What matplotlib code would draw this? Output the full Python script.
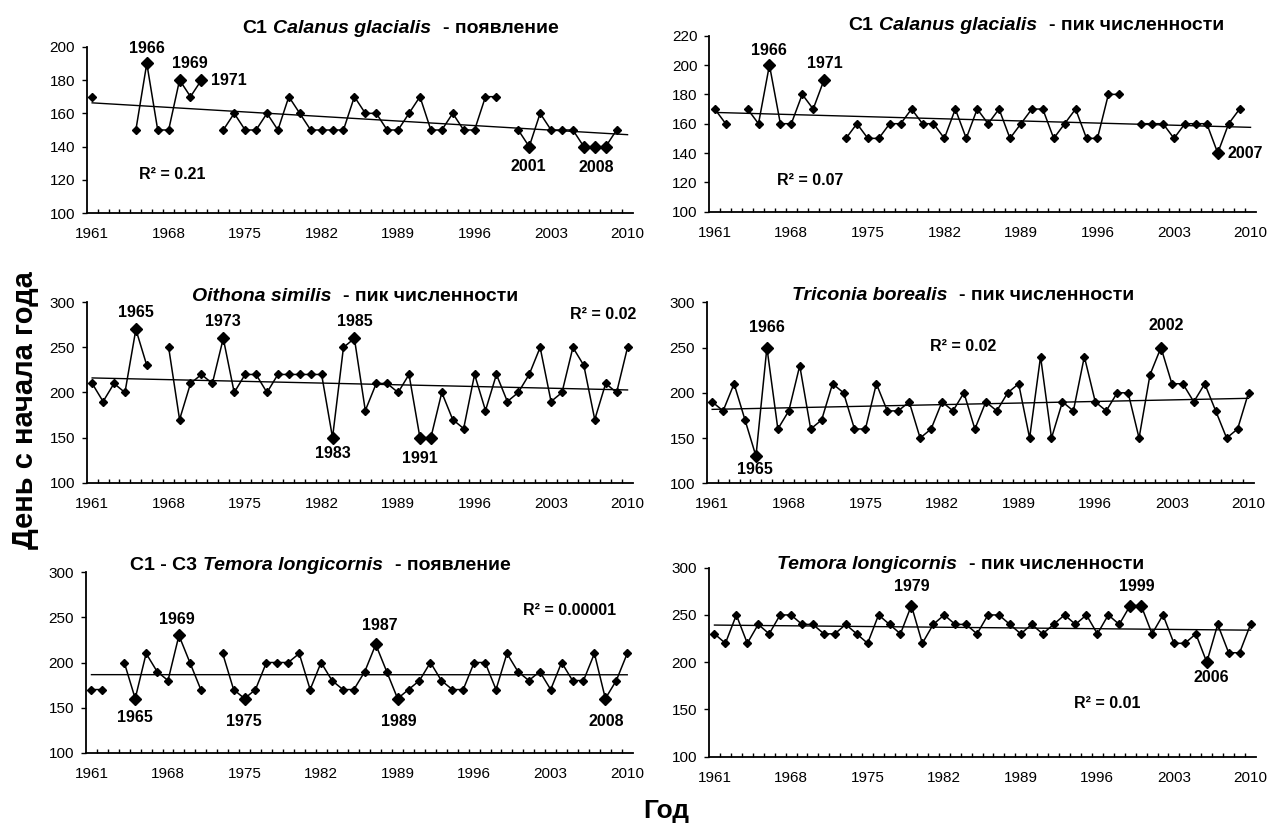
import numpy as np
import matplotlib
matplotlib.use("Agg")
import matplotlib.pyplot as plt
from matplotlib.ticker import FixedLocator, NullFormatter

plt.rcParams['font.family'] = ['Liberation Sans', 'DejaVu Sans']

nan = np.nan
years = np.arange(1961, 2011)
year_labels = [1961, 1968, 1975, 1982, 1989, 1996, 2003, 2010]

# day of year, one value per year 1961..2010
calanus_first = [170, nan, nan, nan, 150, 190, 150, 150, 180, 170,
                 180, nan, 150, 160, 150, 150, 160, 150, 170, 160,
                 150, 150, 150, 150, 170, 160, 160, 150, 150, 160,
                 170, 150, 150, 160, 150, 150, 170, 170, nan, 150,
                 140, 160, 150, 150, 150, 140, 140, 140, 150, nan]
calanus_peak = [170, 160, nan, 170, 160, 200, 160, 160, 180, 170,
                190, nan, 150, 160, 150, 150, 160, 160, 170, 160,
                160, 150, 170, 150, 170, 160, 170, 150, 160, 170,
                170, 150, 160, 170, 150, 150, 180, 180, nan, 160,
                160, 160, 150, 160, 160, 160, 140, 160, 170, nan]
oithona_peak = [210, 190, 210, 200, 270, 230, nan, 250, 170, 210,
                220, 210, 260, 200, 220, 220, 200, 220, 220, 220,
                220, 220, 150, 250, 260, 180, 210, 210, 200, 220,
                150, 150, 200, 170, 160, 220, 180, 220, 190, 200,
                220, 250, 190, 200, 250, 230, 170, 210, 200, 250]
triconia_peak = [190, 180, 210, 170, 130, 250, 160, 180, 230, 160,
                 170, 210, 200, 160, 160, 210, 180, 180, 190, 150,
                 160, 190, 180, 200, 160, 190, 180, 200, 210, 150,
                 240, 150, 190, 180, 240, 190, 180, 200, 200, 150,
                 220, 250, 210, 210, 190, 210, 180, 150, 160, 200]
temora_first = [170, 170, nan, 200, 160, 210, 190, 180, 230, 200,
                170, nan, 210, 170, 160, 170, 200, 200, 200, 210,
                170, 200, 180, 170, 170, 190, 220, 190, 160, 170,
                180, 200, 180, 170, 170, 200, 200, 170, 210, 190,
                180, 190, 170, 200, 180, 180, 210, 160, 180, 210]
temora_peak = [230, 220, 250, 220, 240, 230, 250, 250, 240, 240,
               230, 230, 240, 230, 220, 250, 240, 230, 260, 220,
               240, 250, 240, 240, 230, 250, 250, 240, 230, 240,
               230, 240, 250, 240, 250, 230, 250, 240, 260, 260,
               230, 250, 220, 220, 230, 200, 240, 210, 210, 240]

# years shown with the large marker
calanus_first_hi = [1966, 1969, 1971, 2001, 2006, 2007, 2008]
calanus_peak_hi = [1966, 1971, 2007]
oithona_peak_hi = [1965, 1973, 1983, 1985, 1991, 1992]
triconia_peak_hi = [1965, 1966, 2002]
temora_first_hi = [1965, 1969, 1975, 1987, 1989, 2008]
temora_peak_hi = [1979, 1999, 2000, 2006]

titles = [
    [("C1", ""), ("Calanus glacialis", "italic"), ("- появление", "")],
    [("C1", ""), ("Calanus glacialis", "italic"), ("- пик численности", "")],
    [("Oithona similis", "italic"), ("- пик численности", "")],
    [("Triconia borealis", "italic"), ("- пик численности", "")],
    [("C1 - C3", ""), ("Temora longicornis", "italic"), ("- появление", "")],
    [("Temora longicornis", "italic"), ("- пик численности", "")],
]
r2_labels = ["R² = 0.21", "R² = 0.07", "R² = 0.02",
             "R² = 0.02", "R² = 0.00001", "R² = 0.01"]

W, H = 1271, 825
fig = plt.figure(figsize=(W / 100, H / 100), dpi=100)


def box(l, t, r, b):
    return [l / W, 1 - b / H, (r - l) / W, (b - t) / H]


panels = [
    dict(data=calanus_first, hi=calanus_first_hi, rect=(86.7, 46.7, 633, 213.3),
         ylim=(100, 200), ystep=20, title_xy=(242, 33),
         r2=(1968.3, 123),
         notes=[("1966", 1966, 199, "center"), ("1969", 1969.9, 190, "center"),
                ("1971", 1971.9, 180, "left"), ("2001", 2000.9, 128, "center"),
                ("2008", 2007.1, 127.5, "center")]),
    dict(data=calanus_peak, hi=calanus_peak_hi, rect=(709.3, 35.7, 1256, 211.7),
         ylim=(100, 220), ystep=20, title_xy=(848, 30),
         r2=(1969.7, 121.6),
         notes=[("1966", 1966, 210, "center"), ("1971", 1971.1, 201, "center"),
                ("2007", 2007.9, 140, "left")]),
    dict(data=oithona_peak, hi=oithona_peak_hi, rect=(86.7, 302.3, 633, 482.7),
         ylim=(100, 300), ystep=50, title_xy=(192, 301),
         r2=(2007.8, 286),
         notes=[("1965", 1965, 288.5, "center"), ("1973", 1973, 278.5, "center"),
                ("1983", 1983, 132.6, "center"), ("1985", 1985, 278.5, "center"),
                ("1991", 1991, 127, "center")]),
    dict(data=triconia_peak, hi=triconia_peak_hi, rect=(706.7, 302.3, 1254, 483.3),
         ylim=(100, 300), ystep=50, title_xy=(792, 300),
         r2=(1983.9, 251.7),
         notes=[("1966", 1966, 272.4, "center"), ("1965", 1964.9, 114.7, "center"),
                ("2002", 2002.5, 274, "center")]),
    dict(data=temora_first, hi=temora_first_hi, rect=(86, 572.3, 632.7, 752.7),
         ylim=(100, 300), ystep=50, title_xy=(130, 570),
         r2=(2004.7, 258.2),
         notes=[("1965", 1965, 138.8, "center"), ("1969", 1968.8, 248.2, "center"),
                ("1975", 1974.9, 135, "center"), ("1987", 1987.4, 240.5, "center"),
                ("1989", 1989.1, 135, "center"), ("2008", 2008.1, 135, "center")]),
    dict(data=temora_peak, hi=temora_peak_hi, rect=(709, 567.7, 1256, 756.7),
         ylim=(100, 300), ystep=50, title_xy=(777, 569),
         r2=(1996.9, 156.5),
         notes=[("1979", 1979, 279.9, "center"), ("1999", 1999.6, 280, "center"),
                ("2006", 2006.4, 184, "center")]),
]

for i, p in enumerate(panels):
    ax = fig.add_axes(box(*p["rect"]))
    y = np.array(p["data"], dtype=float)

    # linear trend over the years that have a value
    ok = ~np.isnan(y)
    k, c = np.polyfit(years[ok], y[ok], 1)
    ax.plot(years, k * years + c, color='black', lw=1.0, zorder=2)

    ax.plot(years, y, color='black', lw=1.1, marker='D', ms=3.9,
            mfc='black', mec='black', zorder=3)
    big = np.isin(years, p["hi"])
    ax.plot(years[big], y[big], ls='none', marker='D', ms=5.8,
            mfc='black', mec='black', zorder=4)

    ax.set_xlim(1960.5, 2010.5)
    ax.set_ylim(*p["ylim"])
    ax.set_yticks(np.arange(p["ylim"][0], p["ylim"][1] + 1, p["ystep"]))
    ax.set_xticks(year_labels)
    ax.xaxis.set_minor_locator(FixedLocator(np.arange(1961.5, 2010.5, 1.0)))
    ax.xaxis.set_minor_formatter(NullFormatter())
    ax.tick_params(axis='x', which='major', length=0, pad=10, labelsize=11)
    ax.tick_params(axis='x', which='minor', direction='in', length=3.2, width=1.0)
    ax.tick_params(axis='y', which='major', direction='out', length=3.5,
                   width=1.0, pad=5, labelsize=11)
    for side in ('top', 'right'):
        ax.spines[side].set_visible(False)
    for side in ('left', 'bottom'):
        ax.spines[side].set_linewidth(1.3)

    for txt, xv, yv, ha in p["notes"]:
        ax.text(xv, yv, txt, ha=ha, va='center', fontsize=11.5,
                fontweight='bold', zorder=5)
    ax.text(p["r2"][0], p["r2"][1], r2_labels[i], ha='center', va='center',
            fontsize=11.5, fontweight='bold')

    # title made of upright and italic pieces
    tx, ty = p["title_xy"]
    prev = None
    for s, style in titles[i]:
        st = style if style else 'normal'
        if prev is None:
            prev = fig.text(tx / W, 1 - ty / H, s, fontsize=14, fontweight='bold',
                            style=st, ha='left', va='baseline')
        else:
            gap = 8.5 if s.startswith('-') else 4.3
            prev = ax.annotate(s, xy=(1, 0), xycoords=prev, xytext=(gap, 0),
                               textcoords='offset points', fontsize=14,
                               fontweight='bold', style=st, ha='left',
                               va='bottom', annotation_clip=False)

fig.text(25 / W, 1 - 410 / H, 'День с начала года', rotation=90, fontsize=21,
         fontweight='bold', ha='center', va='center')
fig.text(666 / W, 1 - 811 / H, 'Год', fontsize=19, fontweight='bold',
         ha='center', va='center')

fig.savefig('out.png', dpi=100)
